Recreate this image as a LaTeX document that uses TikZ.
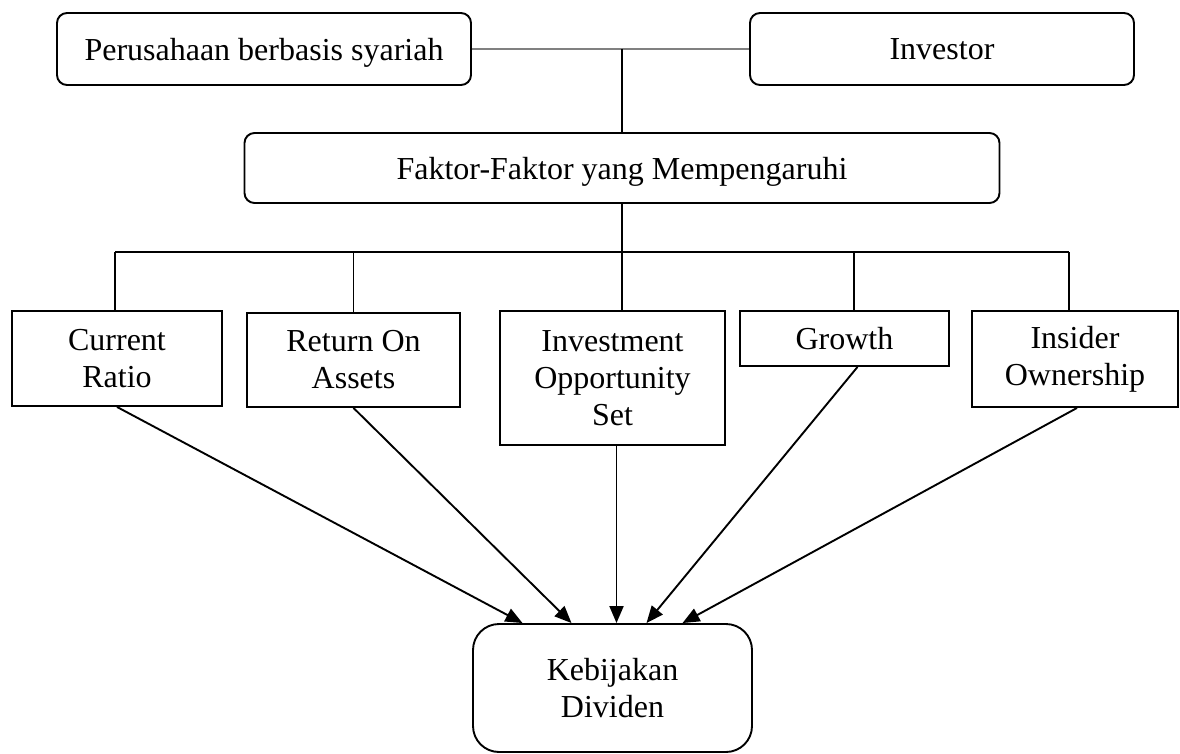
\documentclass[tikz,border=0pt]{standalone}
\usepackage{fontspec}
\setmainfont{Liberation Serif}
\usetikzlibrary{positioning,arrows.meta}

\begin{document}
\begin{tikzpicture}[x=1pt,y=-1pt,line width=1.9pt,>={Triangle[length=17pt,width=14pt]}]
    \tikzset{roundbox/.style={draw,rectangle,rounded corners=10pt,align=center,inner sep=0pt,text depth=0pt,font=\fontsize{32}{37}\selectfont}}
    \tikzset{factorbox/.style={draw,rectangle,align=center,inner sep=0pt,font=\fontsize{32}{37}\selectfont}}
    \useasboundingbox (0,0) rectangle (1180,754);
    \node[roundbox,minimum width=414pt,minimum height=72pt] (pers) at (264,49) {Perusahaan berbasis syariah};
    \node[roundbox,minimum width=384pt,minimum height=72pt] (inv) [right=678pt of pers.center,anchor=center] {Investor};
    \node[roundbox,minimum width=755pt,minimum height=70pt] (faktor) at (622,168) {Faktor-Faktor yang Mempengaruhi};
    \node[factorbox,minimum width=210pt,minimum height=95pt] (cr) at (117,358.5) {Current\\Ratio};
    \node[factorbox,minimum width=213pt,minimum height=94pt] (roa) at (353.5,360) {Return On\\Assets};
    \node[factorbox,minimum width=225pt,minimum height=134pt] (ios) at (612.5,378) {Investment\\Opportunity\\Set};
    \node[factorbox,minimum width=209pt,minimum height=55pt] (gro) at (844.5,338.5) {Growth};
    \node[factorbox,minimum width=206pt,minimum height=96pt] (ins) at (1075,359) {Insider\\Ownership};
    \node[roundbox,rounded corners=26pt,minimum width=279pt,minimum height=128pt] (keb) at (612.5,688) {Kebijakan\\Dividen};
    % top links
    \draw[gray,line width=2pt] (pers.east) -- (inv.west);
    \draw (pers.east -| faktor.north) -- (faktor.north);
    \draw (faktor.south) -- (faktor.south |- ios.north);
    % branch line
    \coordinate (busL) at (115,252);
    \coordinate (busR) at (1069,252);
    \draw (busL) -- (busR);
    \draw (busL) -- (busL |- cr.north);
    \draw (roa.north |- busL) -- (roa.north);
    \draw ([xshift=9.5pt]gro.north |- busL) -- ([xshift=9.5pt]gro.north);
    \draw (busR) -- (busR |- ins.north);
    % arrows to the policy
    \path[->]
    (cr.south) edge ([xshift=-90pt]keb.north)
    (roa.south) edge ([xshift=-41pt]keb.north)
    ([xshift=4pt]ios.south) edge ([xshift=4pt]keb.north)
    ([xshift=13pt]gro.south) edge ([xshift=34pt]keb.north)
    ([xshift=2pt]ins.south) edge ([xshift=70pt]keb.north)
    ;
\end{tikzpicture}
\end{document}
